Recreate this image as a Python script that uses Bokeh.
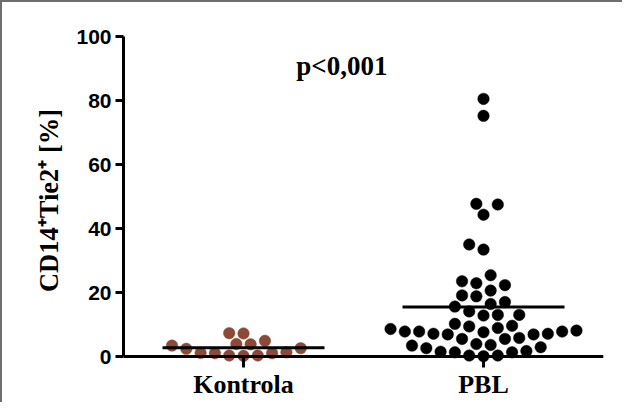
import numpy as np
from bokeh.plotting import figure
from bokeh.models import FixedTicker, Span, Label
from bokeh.embed import file_html
from bokeh.resources import INLINE

# ---------------- data ----------------
categories = ["Kontrola", "PBL"]
kontrola = [3.8, 2.6, 1.3, 1.0, 0.3, 7.3, 4.9, 3.9, 0.2, 0.3, 7.2, 1.0, 1.1, 2.4, 3.4]
pbl = [80.5, 75.2, 47.5, 47.7, 44.3, 33.4, 35.0, 25.4, 22.9, 22.3, 23.5, 20.6,
       18.8, 19.1, 16.4, 17.0, 15.6, 14.1, 13.0, 12.8, 13.0, 9.6, 10.2, 8.6,
       7.8, 8.1, 8.9, 9.4, 7.8, 7.1, 6.9, 5.8, 5.5, 3.9, 5.5, 6.9, 7.1, 7.6,
       7.8, 3.6, 2.9, 1.7, 1.3, 0.3, 0.1, 0.3, 1.3, 1.5, 2.6, 3.4]
group_colors = ["#8b4a36", "#000000"]
y_ticks = [0, 20, 40, 60, 80, 100]
p_text = "p<0,001"
y_title = "CD14\u207aTie2\u207a [%]"

# ---------------- geometry ----------------
W, H = 622, 402
ML, MR, MT, MB = 121, 21, 34, 40
x_start, x_end = 0.5, 2.5
y_start, y_end = -2.5, 100
frame_w = W - ML - MR
frame_h = H - MT - MB
px_x = frame_w / (x_end - x_start)
px_y = frame_h / (y_end - y_start)

DOT = 11.5       # marker diameter, px
STEP = 14.3      # column spacing, px
MIN_D = 12.6     # minimal centre distance, px


def swarm(values):
    vals = np.asarray(values, dtype=float)
    order = np.argsort(vals, kind="stable")
    placed = []
    offs = np.zeros(len(vals))
    half = STEP / 2.0
    left_first = True
    for i in order:
        y = vals[i] * px_y
        cands = [0.0]
        for n in range(1, 60):
            if left_first:
                cands += [-n * half, n * half]
            else:
                cands += [n * half, -n * half]
        chosen = 0.0
        for c in cands:
            if all((c - px) ** 2 + (y - py) ** 2 >= MIN_D ** 2 for px, py in placed):
                chosen = c
                break
        if chosen != 0.0:
            left_first = not left_first
        placed.append((chosen, y))
        offs[i] = chosen / px_x
    return offs


p = figure(width=W, height=H, x_range=(x_start, x_end), y_range=(y_start, y_end),
           output_backend="svg", toolbar_location=None,
           min_border_left=ML, min_border_right=MR, min_border_top=MT, min_border_bottom=MB)
p.styles = {"border-top": "2px solid #6e6e6e", "border-left": "2px solid #6e6e6e"}
p.grid.visible = False
p.outline_line_color = None
p.background_fill_color = "white"
p.border_fill_color = "white"

groups = [kontrola, pbl]
for gi, (vals, col) in enumerate(zip(groups, group_colors)):
    center = gi + 1
    xs = center + swarm(vals)
    p.scatter(xs, vals, size=DOT, fill_color=col, line_color=col, line_width=0.5)

means = [float(np.mean(g)) for g in groups]
centers = [i + 1 for i in range(len(categories))]
half_w = 81 / px_x
p.segment(x0=[c - half_w for c in centers], y0=means,
          x1=[c + half_w for c in centers], y1=means,
          line_color="black", line_width=3)

# baseline (x axis line at 0)
p.add_layout(Span(location=0, dimension="width", line_color="black", line_width=3))

# y axis
ya = p.yaxis[0]
ya.ticker = FixedTicker(ticks=y_ticks)
ya.bounds = (0, 100)
ya.axis_line_width = 3
ya.axis_line_color = "black"
ya.major_tick_line_width = 3
ya.major_tick_out = 8
ya.major_tick_in = 0
ya.minor_tick_line_color = None
ya.major_label_standoff = 4
ya.major_label_text_font = "Liberation Sans"
ya.major_label_text_font_style = "bold"
ya.major_label_text_font_size = "21px"
ya.major_label_text_color = "black"
ya.axis_label = y_title
ya.axis_label_text_font = "Liberation Serif"
ya.axis_label_text_font_style = "bold"
ya.axis_label_text_font_size = "26.5px"
ya.axis_label_text_color = "black"
ya.axis_label_standoff = 9

# x axis
xa = p.xaxis[0]
xa.ticker = FixedTicker(ticks=centers)
xa.major_label_overrides = {c: name for c, name in zip(centers, categories)}
xa.axis_line_color = None
xa.major_tick_line_width = 3
xa.major_tick_in = 8
xa.major_tick_out = 3
xa.minor_tick_line_color = None
xa.major_label_standoff = 2
xa.major_label_text_font = "Liberation Serif"
xa.major_label_text_font_style = "bold"
xa.major_label_text_font_size = "26px"
xa.major_label_text_color = "black"

p.add_layout(Label(x=1.41, y=90.9, text=p_text, text_align="center",
                   text_baseline="alphabetic", text_font="Liberation Serif",
                   text_font_style="bold", text_font_size="27px", text_color="black"))

open("out.html", "w").write(file_html(p, INLINE))
